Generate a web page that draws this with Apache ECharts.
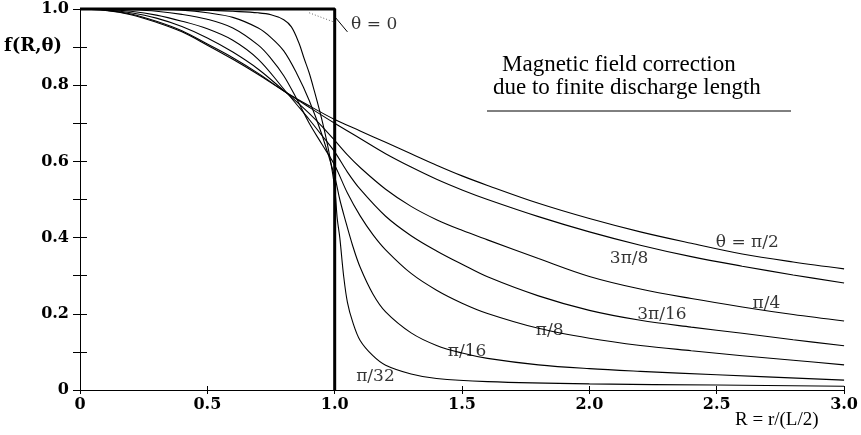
<!DOCTYPE html>
<html>
<head>
<meta charset="utf-8">
<script src="https://cdn.jsdelivr.net/npm/echarts@6.0.0/dist/echarts.min.js"></script>
<style>
  html, body { margin: 0; background: #fff; }
  #chart { width: 861px; height: 435px; }
</style>
</head>
<body>
<div id="chart"></div>
<script>
// axis ticks
const xTicks = [0, 0.5, 1.0, 1.5, 2.0, 2.5, 3.0];
const yTicks = [0, 0.2, 0.4, 0.6, 0.8, 1.0];

// f(R, theta), one R list + one f list per curve
const rPi2 = [0, 0.1, 0.2, 0.3, 0.4, 0.5, 0.6, 0.7, 0.8, 0.9, 1.0, 1.1, 1.2, 1.3, 1.4, 1.5, 1.6, 1.8, 2.0, 2.2, 2.4, 2.6, 2.8, 3.0];
const fPi2 = [1, 0.996, 0.985, 0.965, 0.94, 0.905, 0.868, 0.828, 0.785, 0.746, 0.71, 0.68, 0.65, 0.62, 0.59, 0.562, 0.537, 0.49, 0.45, 0.415, 0.385, 0.357, 0.336, 0.318];

const r3Pi8 = rPi2;
const f3Pi8 = [1, 0.997, 0.987, 0.968, 0.943, 0.908, 0.872, 0.831, 0.785, 0.742, 0.70, 0.66, 0.62, 0.585, 0.553, 0.525, 0.50, 0.455, 0.415, 0.38, 0.35, 0.325, 0.302, 0.281];

const rPi4 = [0, 0.1, 0.2, 0.3, 0.4, 0.5, 0.6, 0.7, 0.8, 0.85, 0.9, 0.95, 1.0, 1.05, 1.1, 1.2, 1.3, 1.4, 1.5, 1.6, 1.8, 2.0, 2.2, 2.4, 2.6, 2.8, 3.0];
const fPi4 = [1, 0.998, 0.99, 0.976, 0.954, 0.924, 0.887, 0.842, 0.786, 0.757, 0.726, 0.692, 0.655, 0.617, 0.584, 0.527, 0.482, 0.447, 0.419, 0.394, 0.345, 0.298, 0.265, 0.24, 0.218, 0.198, 0.181];

const r3Pi16 = rPi4;
const f3Pi16 = [1, 0.999, 0.994, 0.984, 0.968, 0.948, 0.918, 0.868, 0.79, 0.75, 0.71, 0.668, 0.625, 0.572, 0.527, 0.456, 0.405, 0.365, 0.33, 0.297, 0.247, 0.209, 0.183, 0.165, 0.149, 0.132, 0.116];

const rPi8 = [0, 0.1, 0.2, 0.3, 0.4, 0.5, 0.6, 0.7, 0.75, 0.8, 0.85, 0.9, 0.95, 1.0, 1.05, 1.1, 1.15, 1.2, 1.3, 1.4, 1.5, 1.6, 1.8, 2.0, 2.2, 2.4, 2.6, 2.8, 3.0];
const fPi8 = [1, 1, 0.998, 0.994, 0.986, 0.973, 0.95, 0.905, 0.87, 0.825, 0.765, 0.70, 0.645, 0.59, 0.517, 0.457, 0.408, 0.368, 0.306, 0.262, 0.228, 0.201, 0.162, 0.136, 0.117, 0.103, 0.09, 0.078, 0.066];

const rPi16 = [0, 0.2, 0.3, 0.4, 0.5, 0.6, 0.7, 0.75, 0.8, 0.85, 0.9, 0.95, 1.0, 1.02, 1.04, 1.07, 1.1, 1.15, 1.2, 1.3, 1.4, 1.5, 1.6, 1.8, 2.0, 2.2, 2.5, 3.0];
const fPi16 = [1, 1, 0.999, 0.997, 0.99, 0.978, 0.95, 0.925, 0.89, 0.832, 0.76, 0.67, 0.56, 0.50, 0.45, 0.38, 0.322, 0.252, 0.205, 0.15, 0.117, 0.097, 0.083, 0.066, 0.056, 0.049, 0.04, 0.026];

const rPi32 = [0, 0.3, 0.5, 0.6, 0.7, 0.75, 0.8, 0.83, 0.86, 0.88, 0.9, 0.92, 0.94, 0.96, 0.98, 1.0, 1.01, 1.02, 1.035, 1.05, 1.07, 1.1, 1.15, 1.2, 1.3, 1.4, 1.6, 2.0, 2.5, 3.0];
const fPi32 = [1, 1, 0.997, 0.994, 0.99, 0.985, 0.972, 0.953, 0.91, 0.87, 0.832, 0.785, 0.735, 0.68, 0.615, 0.53, 0.45, 0.40, 0.30, 0.23, 0.18, 0.13, 0.09, 0.065, 0.042, 0.03, 0.022, 0.016, 0.013, 0.01];

// theta = 0 : step function
const rZero = [0, 1, 1];
const fZero = [1, 1, 0];

// dotted trace and leader line for the "θ = 0" label
const rDotted = [0.9, 1.0];
const fDotted = [0.99, 0.965];
const rLeader = [1.0, 1.05];
const fLeader = [0.98, 0.94];

// curve labels
const labelText = ['θ = π/2', '3π/8', 'π/4', '3π/16', 'π/8', 'π/16', 'π/32', 'θ = 0'];
const labelR = [2.62, 2.156, 2.695, 2.285, 1.844, 1.52, 1.16, 1.155];
const labelF = [0.386, 0.346, 0.228, 0.197, 0.155, 0.1, 0.034, 0.958];

const zip = (r, f) => r.map((x, i) => [x, f[i]]);

const curves = [
  [rPi2, fPi2], [r3Pi8, f3Pi8], [rPi4, fPi4], [r3Pi16, f3Pi16],
  [rPi8, fPi8], [rPi16, fPi16], [rPi32, fPi32]
];

const serif = 'DejaVu Serif';
const tickFmt = v => (v === 0 ? '0' : v.toFixed(1));

const chart = echarts.init(document.getElementById('chart'));

const series = curves.map(c => ({
  type: 'line',
  data: zip(c[0], c[1]),
  symbol: 'none',
  smooth: 0.35,
  lineStyle: { color: '#000', width: 1.1 }
}));

series.push({
  type: 'line',
  data: zip(rZero, fZero),
  symbol: 'none',
  clip: false,
  lineStyle: { color: '#000', width: 3 }
});
series.push({
  type: 'line',
  data: zip(rDotted, fDotted),
  symbol: 'none',
  lineStyle: { color: '#666', width: 1, type: [1, 2] }
});
series.push({
  type: 'line',
  data: zip(rLeader, fLeader),
  symbol: 'none',
  clip: false,
  lineStyle: { color: '#000', width: 1 }
});
series.push({
  type: 'scatter',
  symbolSize: 0,
  clip: false,
  data: labelText.map((t, i) => [labelR[i], labelF[i], t]),
  label: {
    show: true,
    position: 'inside',
    formatter: p => p.data[2],
    fontFamily: serif,
    fontSize: 17,
    color: '#000'
  }
});

const option = {
  animation: false,
  backgroundColor: '#fff',
  grid: { left: 80, right: 13, top: 9, bottom: 45 },
  xAxis: [
    {
      type: 'value', min: xTicks[0], max: xTicks[xTicks.length - 1], interval: 0.5,
      axisLine: { lineStyle: { color: '#000', width: 1 } },
      axisTick: { inside: true, length: 4, lineStyle: { color: '#000' } },
      axisLabel: { formatter: tickFmt, fontFamily: serif, fontWeight: 'bold', fontSize: 16, color: '#000', margin: 7 },
      splitLine: { show: false }
    },
    {
      type: 'value', position: 'top', min: 0, max: 3, interval: 0.5,
      axisLine: { show: true, lineStyle: { color: '#000', width: 1 } },
      axisTick: { inside: true, length: 4, lineStyle: { color: '#000' } },
      axisLabel: { show: false },
      splitLine: { show: false }
    }
  ],
  yAxis: [
    {
      type: 'value', min: yTicks[0], max: yTicks[yTicks.length - 1], interval: 0.2,
      axisLine: { show: true, lineStyle: { color: '#000', width: 1 } },
      axisTick: { inside: true, length: 7, lineStyle: { color: '#000' } },
      minorTick: { show: true, splitNumber: 2, length: 7, lineStyle: { color: '#000' } },
      axisLabel: { formatter: tickFmt, fontFamily: serif, fontWeight: 'bold', fontSize: 16, color: '#000', margin: 11 },
      splitLine: { show: false }
    },
    {
      type: 'value', position: 'right', min: 0, max: 1, interval: 0.2,
      axisLine: { show: true, lineStyle: { color: '#000', width: 1 } },
      axisTick: { inside: true, length: 7, lineStyle: { color: '#000' } },
      minorTick: { show: true, splitNumber: 2, length: 7, lineStyle: { color: '#000' } },
      axisLabel: { show: false },
      splitLine: { show: false }
    }
  ],
  graphic: [
    { type: 'text', left: 4, top: 37, style: { text: 'f(R,θ)', font: 'bold 18px "DejaVu Serif"', fill: '#000' } },
    { type: 'text', left: 735, top: 411, style: { text: 'R = r/(L/2)', font: '19px "Liberation Serif"', fill: '#000' } },
    { type: 'text', left: 502, top: 53, style: { text: 'Magnetic field correction', font: '23px "Liberation Serif"', fill: '#000' } },
    { type: 'text', left: 493, top: 76, style: { text: 'due to finite discharge length', font: '23px "Liberation Serif"', fill: '#000' } },
    { type: 'line', shape: { x1: 487, y1: 111, x2: 791, y2: 111 }, style: { stroke: '#000', lineWidth: 1 } }
  ],
  series: series
};

chart.setOption(option);
</script>
</body>
</html>
